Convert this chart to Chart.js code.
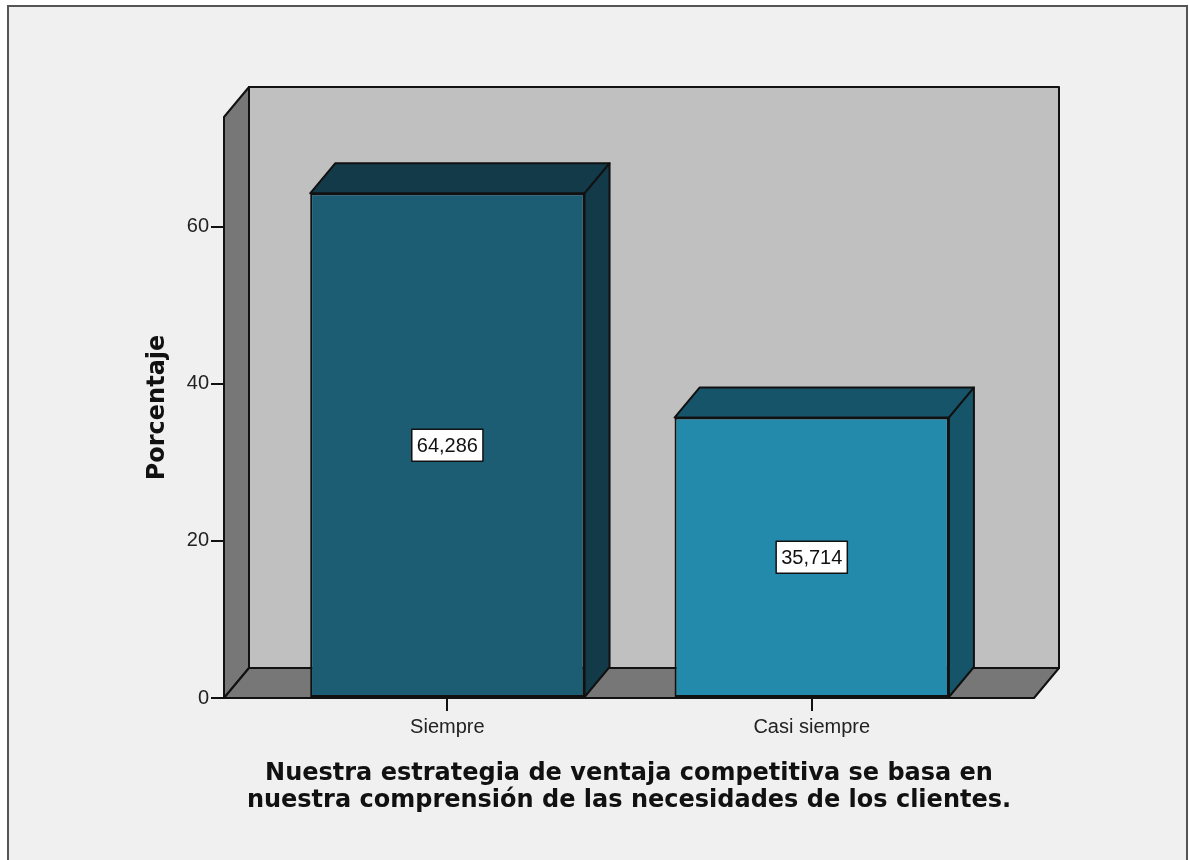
<!DOCTYPE html>
<html>
<head>
<meta charset="utf-8">
<script src="https://cdn.jsdelivr.net/npm/chart.js@4"></script>
<style>
  html, body { margin: 0; background: #ffffff; }
  canvas { display: block; }
</style>
</head>
<body>
<canvas id="chart" width="1189" height="860"></canvas>
<script>
// data
const categories  = ["Siempre", "Casi siempre"];
const percentages = [64.286, 35.714];
const valueLabels = ["64,286", "35,714"];
const yTicks      = [0, 20, 40, 60];
const yMax        = 74;
const xTitle      = ["Nuestra estrategia de ventaja competitiva se basa en",
                     "nuestra comprensión de las necesidades de los clientes."];
const yTitle      = "Porcentaje";

// styles
const frontColors = ["#1c5d74", "#248aab"];
const shadeColors = ["#123a48", "#16546a"];
const DX = 25, DY = -30;   // depth of the 3d box
const ARIAL = "'Liberation Sans', Arial, sans-serif";
const BOLD  = "'DejaVu Sans', Verdana, sans-serif";

function poly(ctx, pts, fill) {
  ctx.beginPath();
  ctx.moveTo(pts[0][0], pts[0][1]);
  for (let i = 1; i < pts.length; i++) ctx.lineTo(pts[i][0], pts[i][1]);
  ctx.closePath();
  ctx.fillStyle = fill;
  ctx.fill();
  ctx.stroke();
}

const depth3d = {
  id: "depth3d",
  beforeDraw(chart) {
    const ctx = chart.ctx;
    ctx.save();
    ctx.fillStyle = "#ffffff";
    ctx.fillRect(0, 0, chart.width, chart.height);
    ctx.fillStyle = "#f0f0f0";
    ctx.fillRect(8, 6, 1179, 870);
    ctx.strokeStyle = "#555555";
    ctx.lineWidth = 2;
    ctx.strokeRect(8, 6, 1179, 870);
    ctx.restore();
  },
  beforeDatasetsDraw(chart) {
    const ctx = chart.ctx;
    const y = chart.scales.y;
    const l = chart.chartArea.left, r = chart.chartArea.right;
    const t = y.getPixelForValue(yMax), b = y.getPixelForValue(0);
    ctx.save();
    ctx.strokeStyle = "#111111";
    ctx.lineWidth = 2;
    ctx.lineJoin = "round";
    // back wall
    poly(ctx, [[l + DX, t + DY], [r + DX, t + DY], [r + DX, b + DY], [l + DX, b + DY]], "#c0c0c0");
    // left wall
    poly(ctx, [[l, b], [l, t], [l + DX, t + DY], [l + DX, b + DY]], "#777777");
    // floor
    poly(ctx, [[l, b], [r, b], [r + DX, b + DY], [l + DX, b + DY]], "#777777");
    ctx.restore();
  },
  afterDatasetsDraw(chart) {
    const ctx = chart.ctx;
    const meta = chart.getDatasetMeta(0);
    ctx.save();
    ctx.strokeStyle = "#111111";
    ctx.lineWidth = 2;
    ctx.lineJoin = "round";
    meta.data.forEach((bar, i) => {
      const p = bar.getProps(["x", "y", "base", "width"], true);
      const left = p.x - p.width / 2, right = p.x + p.width / 2;
      poly(ctx, [[left, p.y], [left + DX, p.y + DY], [right + DX, p.y + DY], [right, p.y]], shadeColors[i]);
      poly(ctx, [[right, p.y], [right + DX, p.y + DY], [right + DX, p.base + DY], [right, p.base]], shadeColors[i]);
    });
    // value labels
    ctx.font = "20px " + ARIAL;
    ctx.textAlign = "center";
    ctx.textBaseline = "middle";
    ctx.lineWidth = 1.5;
    meta.data.forEach((bar, i) => {
      const p = bar.getProps(["x", "y", "base"], true);
      const cy = (p.y + p.base) / 2;
      const w = ctx.measureText(valueLabels[i]).width + 10;
      const h = 32;
      ctx.fillStyle = "#ffffff";
      ctx.fillRect(p.x - w / 2, cy - h / 2, w, h);
      ctx.strokeStyle = "#111111";
      ctx.strokeRect(p.x - w / 2, cy - h / 2, w, h);
      ctx.fillStyle = "#111111";
      ctx.fillText(valueLabels[i], p.x, cy + 1);
    });
    ctx.restore();
  }
};

new Chart(document.getElementById("chart"), {
  type: "bar",
  data: {
    datasets: [{
      data: percentages.map((v, i) => ({ x: i, y: v })),
      backgroundColor: frontColors,
      borderColor: "#111111",
      borderWidth: 2,
      borderSkipped: false,
      categoryPercentage: 1,
      barPercentage: 0.753
    }]
  },
  options: {
    responsive: false,
    animation: false,
    layout: { padding: { left: 139, top: 117, right: 155, bottom: 42 } },
    plugins: {
      legend: { display: false },
      tooltip: { enabled: false }
    },
    scales: {
      x: {
        type: "linear",
        min: -0.613,
        max: 1.61,
        offset: false,
        afterBuildTicks: s => { s.ticks = categories.map((c, i) => ({ value: i })); },
        afterFit: s => { s.height = 120; },
        ticks: {
          callback: v => categories[v],
          font: { size: 20, family: ARIAL },
          color: "#222222",
          padding: 4,
          maxRotation: 0,
          autoSkip: false
        },
        grid: { offset: false, drawOnChartArea: false, drawTicks: true, tickLength: 13, color: "#111111", lineWidth: 2 },
        border: { display: false },
        title: {
          display: true,
          text: xTitle,
          font: { size: 24, weight: "bold", family: BOLD, lineHeight: 1.12 },
          color: "#111111",
          padding: { top: 4, bottom: 4 }
        }
      },
      y: {
        min: 0,
        max: yMax,
        afterBuildTicks: s => { s.ticks = yTicks.map(v => ({ value: v })); },
        afterFit: s => { s.width = 85; },
        ticks: {
          font: { size: 20, family: ARIAL },
          color: "#222222",
          padding: 2
        },
        grid: { drawOnChartArea: false, drawTicks: true, tickLength: 13, color: "#111111", lineWidth: 2 },
        border: { display: false },
        title: {
          display: true,
          text: yTitle,
          font: { size: 24, weight: "bold", family: BOLD },
          color: "#111111",
          padding: { top: 4, bottom: 4 }
        }
      }
    }
  },
  plugins: [depth3d]
});
</script>
</body>
</html>
